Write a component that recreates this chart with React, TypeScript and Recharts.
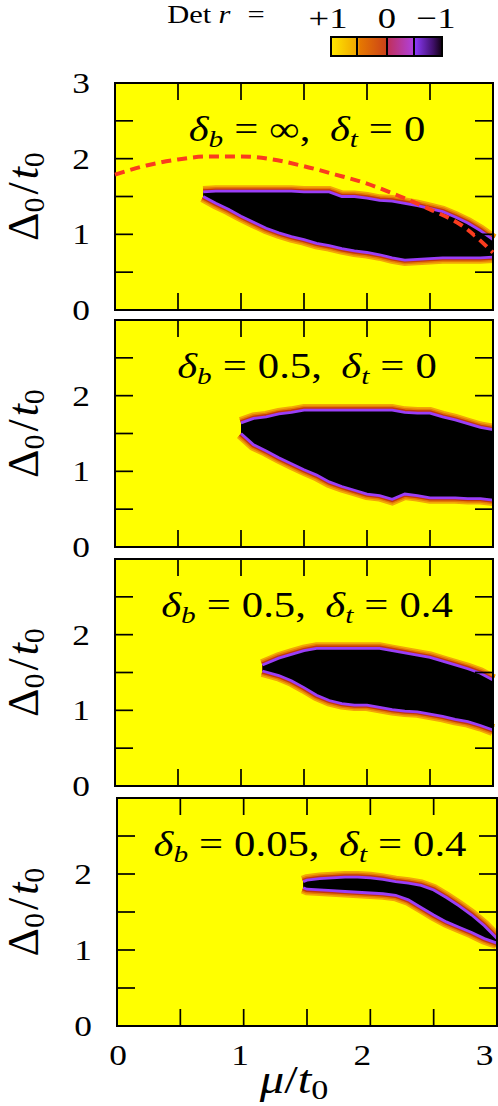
import React from "react";
import {
  ComposedChart,
  Area,
  Line,
  XAxis,
  YAxis,
  CartesianGrid,
  ReferenceArea,
} from "recharts";

const FONT = '"Liberation Serif", "DejaVu Serif", serif';
const SX = 1.22; // the original TeX labels are a bit wider than Times

const AXIS_TICKS = [0, 0.5, 1, 1.5, 2, 2.5, 3];
const X_LABELS = [0, 1, 2, 3];

// panel 1: δb = ∞, δt = 0  (black region = Det r < 0, read per column of μ)
const p1Mu = [0.7, 0.8, 0.9, 1.0, 1.1, 1.2, 1.3, 1.4, 1.5, 1.6, 1.7, 1.8, 1.9, 2.0, 2.1, 2.2, 2.3, 2.4, 2.5, 2.6, 2.7, 2.8, 2.9, 3.0];
const p1Low = [1.5, 1.41, 1.33, 1.24, 1.16, 1.08, 1.02, 0.97, 0.93, 0.88, 0.85, 0.81, 0.78, 0.76, 0.73, 0.69, 0.66, 0.67, 0.68, 0.69, 0.69, 0.69, 0.69, 0.7];
const p1High = [1.56, 1.57, 1.57, 1.57, 1.57, 1.57, 1.57, 1.57, 1.56, 1.56, 1.56, 1.5, 1.5, 1.48, 1.45, 1.44, 1.41, 1.38, 1.34, 1.3, 1.23, 1.15, 1.05, 0.93];
// red dashed curve in panel 1
const dashMu = [0, 0.25, 0.5, 0.75, 1, 1.25, 1.5, 1.75, 2, 2.25, 2.5, 2.75, 3];
const dashDelta = [1.79, 1.91, 1.99, 2.03, 2.03, 1.99, 1.9, 1.79, 1.67, 1.51, 1.33, 1.12, 0.76];

// panel 2: δb = 0.5, δt = 0
const p2Mu = [1.0, 1.1, 1.2, 1.3, 1.4, 1.5, 1.6, 1.7, 1.8, 1.9, 2.0, 2.1, 2.2, 2.3, 2.4, 2.5, 2.6, 2.7, 2.8, 2.9, 3.0];
const p2Low = [1.5, 1.35, 1.27, 1.18, 1.1, 1.02, 0.95, 0.86, 0.8, 0.75, 0.7, 0.68, 0.63, 0.7, 0.68, 0.65, 0.65, 0.65, 0.64, 0.64, 0.62];
const p2High = [1.64, 1.7, 1.72, 1.76, 1.78, 1.81, 1.81, 1.81, 1.81, 1.81, 1.81, 1.81, 1.81, 1.78, 1.77, 1.77, 1.72, 1.68, 1.63, 1.58, 1.55];

// panel 3: δb = 0.5, δt = 0.4
const p3Mu = [1.17, 1.3, 1.4, 1.5, 1.6, 1.7, 1.8, 1.9, 2.0, 2.1, 2.2, 2.3, 2.4, 2.5, 2.6, 2.7, 2.8, 2.9, 3.0];
const p3Low = [1.52, 1.46, 1.39, 1.3, 1.2, 1.13, 1.09, 1.07, 1.07, 1.04, 1.01, 0.99, 0.98, 0.95, 0.92, 0.88, 0.85, 0.8, 0.74];
const p3High = [1.6, 1.69, 1.74, 1.79, 1.82, 1.82, 1.82, 1.82, 1.82, 1.82, 1.79, 1.76, 1.73, 1.7, 1.65, 1.6, 1.55, 1.49, 1.4];

// panel 4: δb = 0.05, δt = 0.4
const p4Mu = [1.47, 1.5, 1.6, 1.7, 1.8, 1.9, 2.0, 2.1, 2.2, 2.3, 2.4, 2.5, 2.6, 2.7, 2.8, 2.9, 3.0];
const p4Low = [1.82, 1.8, 1.79, 1.78, 1.77, 1.76, 1.75, 1.74, 1.72, 1.66, 1.56, 1.46, 1.37, 1.3, 1.23, 1.15, 1.09];
const p4High = [1.9, 1.92, 1.94, 1.95, 1.96, 1.96, 1.95, 1.93, 1.9, 1.88, 1.85, 1.79, 1.69, 1.58, 1.46, 1.32, 1.15];

type Row = { mu: number; band?: [number, number]; edge?: number };

function buildRows(mu: number[], low: number[], high: number[], lineMu: number[] = [], lineVal: number[] = []): Row[] {
  const map = new Map<string, Row>();
  const get = (m: number) => {
    const k = m.toFixed(3);
    if (!map.has(k)) map.set(k, { mu: m });
    return map.get(k)!;
  };
  mu.forEach((m, i) => (get(m).band = [low[i], high[i]]));
  lineMu.forEach((m, i) => (get(m).edge = lineVal[i]));
  return Array.from(map.values()).sort((a, b) => a.mu - b.mu);
}

type PanelDef = {
  top: number;
  bottom: number;
  left: number;
  right: number;
  rows: Row[];
  dashed: boolean;
  topLabel: boolean;
  xLabels: boolean;
};

const panels: PanelDef[] = [
  { top: 83, bottom: 310, left: 115, right: 493, rows: buildRows(p1Mu, p1Low, p1High, dashMu, dashDelta), dashed: true, topLabel: true, xLabels: false },
  { top: 320, bottom: 547, left: 115, right: 493, rows: buildRows(p2Mu, p2Low, p2High), dashed: false, topLabel: false, xLabels: false },
  { top: 559, bottom: 786, left: 115, right: 493, rows: buildRows(p3Mu, p3Low, p3High), dashed: false, topLabel: false, xLabels: false },
  { top: 798, bottom: 1026, left: 117, right: 497, rows: buildRows(p4Mu, p4Low, p4High), dashed: false, topLabel: false, xLabels: true },
];

const titles = [
  { b: "∞", t: "0" },
  { b: "0.5", t: "0" },
  { b: "0.5", t: "0.4" },
  { b: "0.05", t: "0.4" },
];

const MT = 30;
const TICK_LEN = 18;
const txt = { fontFamily: FONT };

function Panel({ p }: { p: PanelDef }) {
  const plotH = p.bottom - p.top;
  const xh = p.xLabels ? 50 : 2;
  const height = MT + plotH + xh + 20;
  const plotTop = MT;
  const plotBottom = MT + plotH;

  const yTick = (props: any) => {
    const v = props.payload.value;
    const y = props.y;
    const inner = v > 0 && v < 3;
    const label = Number.isInteger(v) && (v < 3 || p.topLabel);
    return (
      <g>
        {inner && <line x1={p.left} x2={p.left + TICK_LEN} y1={y} y2={y} stroke="#000" strokeWidth={1.7} />}
        {inner && <line x1={p.right - TICK_LEN} x2={p.right} y1={y} y2={y} stroke="#000" strokeWidth={1.7} />}
        {label && (
          <text
            transform={`translate(${p.left - 34} ${y + 10}) scale(${SX} 1)`}
            textAnchor="middle"
            style={txt}
            fontSize={29}
            fill="#000"
          >
            {v}
          </text>
        )}
      </g>
    );
  };

  const xTick = (props: any) => {
    const v = props.payload.value;
    const x = props.x;
    const inner = v > 0 && v < 3;
    const label = p.xLabels && X_LABELS.includes(v);
    return (
      <g>
        {inner && <line x1={x} x2={x} y1={plotBottom} y2={plotBottom - TICK_LEN + 1} stroke="#000" strokeWidth={1.7} />}
        {inner && <line x1={x} x2={x} y1={plotTop} y2={plotTop + TICK_LEN - 1} stroke="#000" strokeWidth={1.7} />}
        {label && (
          // the labels in the original drift slightly left of their ticks
          <text
            transform={`translate(${x + 1 - 4.5 * v} ${plotBottom + 39}) scale(${SX} 1)`}
            textAnchor="middle"
            style={txt}
            fontSize={29}
            fill="#000"
          >
            {v}
          </text>
        )}
      </g>
    );
  };

  const rim = { connectNulls: true, dot: false, activeDot: false, isAnimationActive: false, type: "linear" as const, fillOpacity: 1 };

  return (
    <div style={{ position: "absolute", left: 0, top: p.top - MT }}>
      <ComposedChart
        width={498}
        height={height}
        data={p.rows}
        margin={{ top: MT, right: 498 - p.right, bottom: 20, left: 0 }}
      >
        <CartesianGrid fill="#ffff00" fillOpacity={1} horizontal={false} vertical={false} stroke="none" />
        <Area dataKey="band" stroke="#f2a606" strokeWidth={12} fill="#f2a606" {...rim} />
        <Area dataKey="band" stroke="#e47a04" strokeWidth={8.5} fill="#e47a04" {...rim} />
        <Area dataKey="band" stroke="#c43a0a" strokeWidth={5.5} fill="#c43a0a" {...rim} />
        <Area dataKey="band" stroke="#9a3ef8" strokeWidth={2.8} fill="#000000" {...rim} />
        {p.dashed && (
          <Line
            dataKey="edge"
            type="monotone"
            stroke="#fa3c1e"
            strokeWidth={4}
            strokeDasharray="10 6"
            connectNulls
            dot={false}
            activeDot={false}
            isAnimationActive={false}
          />
        )}
        <XAxis
          type="number"
          dataKey="mu"
          domain={[0, 3]}
          ticks={AXIS_TICKS}
          interval={0}
          height={xh}
          axisLine={false}
          tickLine={false}
          tickSize={0}
          tick={xTick}
        />
        <YAxis
          type="number"
          domain={[0, 3]}
          ticks={AXIS_TICKS}
          interval={0}
          width={p.left}
          axisLine={false}
          tickLine={false}
          tickSize={0}
          tick={yTick}
        />
        <ReferenceArea x1={0} x2={3} y1={0} y2={3} fill="none" stroke="#000" strokeWidth={2} ifOverflow="visible" />
      </ComposedChart>
    </div>
  );
}

function Title({ p, b, t }: { p: PanelDef; b: string; t: string }) {
  const cx = (p.left + p.right) / 2 + 3;
  const by = p.top + 58;
  return (
    <g transform={`translate(${cx} ${by}) scale(${SX} 1)`}>
      <text textAnchor="middle" style={txt} fontSize={35} fill="#000">
        <tspan fontStyle="italic">δ</tspan>
        <tspan fontStyle="italic" fontSize={24} dy={6}>b</tspan>
        <tspan dy={-6} dx={9}>=</tspan>
        <tspan dx={9}>{b},</tspan>
        <tspan dx={16} fontStyle="italic">δ</tspan>
        <tspan fontStyle="italic" fontSize={24} dy={6}>t</tspan>
        <tspan dy={-6} dx={9}>=</tspan>
        <tspan dx={9}>{t}</tspan>
      </text>
    </g>
  );
}

function YLabel({ p }: { p: PanelDef }) {
  const cy = (p.top + p.bottom) / 2;
  return (
    <g transform={`translate(38 ${cy}) rotate(-90)`}>
      <text textAnchor="middle" style={txt} fontSize={44} fill="#000">
        Δ<tspan fontSize={30} dy={6}>0</tspan>
        <tspan dy={-6} dx={3}>/</tspan>
        <tspan fontStyle="italic" dx={3}>t</tspan>
        <tspan fontSize={30} dy={6}>0</tspan>
      </text>
    </g>
  );
}

function Overlay() {
  return (
    <svg width={498} height={1106} style={{ position: "absolute", left: 0, top: 0, pointerEvents: "none" }}>
      <defs>
        <linearGradient id="detbar" x1="0" x2="1" y1="0" y2="0">
          <stop offset="0" stopColor="#ffe800" />
          <stop offset="0.24" stopColor="#f0a400" />
          <stop offset="0.26" stopColor="#e67800" />
          <stop offset="0.49" stopColor="#cc4418" />
          <stop offset="0.51" stopColor="#c0305a" />
          <stop offset="0.74" stopColor="#b040dc" />
          <stop offset="0.76" stopColor="#8a38f6" />
          <stop offset="0.92" stopColor="#40106a" />
          <stop offset="1" stopColor="#100010" />
        </linearGradient>
      </defs>
      <g transform={`translate(216 23) scale(${SX} 1)`}>
        <text textAnchor="middle" style={txt} fontSize={25} fill="#000">
          Det<tspan dx={6} fontStyle="italic">r</tspan>
          <tspan dx={14}>=</tspan>
        </text>
      </g>
      {[
        { s: "+1", x: 328 },
        { s: "0", x: 387 },
        { s: "−1", x: 436 },
      ].map((l) => (
        <g key={l.s} transform={`translate(${l.x} 28) scale(${SX} 1)`}>
          <text textAnchor="middle" style={txt} fontSize={30} fill="#000">
            {l.s}
          </text>
        </g>
      ))}
      <rect x={331} y={37} width={111} height={19} fill="url(#detbar)" stroke="#000" strokeWidth={2} />
      {[357, 387, 414].map((x) => (
        <line key={x} x1={x} x2={x} y1={37} y2={56} stroke="#000" strokeWidth={2} />
      ))}
      {panels.map((p, i) => (
        <Title key={i} p={p} b={titles[i].b} t={titles[i].t} />
      ))}
      {panels.map((p, i) => (
        <YLabel key={i} p={p} />
      ))}
      <g transform={`translate(294 1093) scale(${SX} 1)`}>
        <text textAnchor="middle" style={txt} fontSize={40} fill="#000">
          <tspan fontStyle="italic">μ</tspan>
          <tspan>/</tspan>
          <tspan fontStyle="italic">t</tspan>
          <tspan fontSize={28} dy={6}>0</tspan>
        </text>
      </g>
    </svg>
  );
}

export default function App() {
  return (
    <div style={{ position: "absolute", left: 0, top: 0, width: 498, height: 1106, background: "#fff" }}>
      {panels.map((p, i) => (
        <Panel key={i} p={p} />
      ))}
      <Overlay />
    </div>
  );
}
